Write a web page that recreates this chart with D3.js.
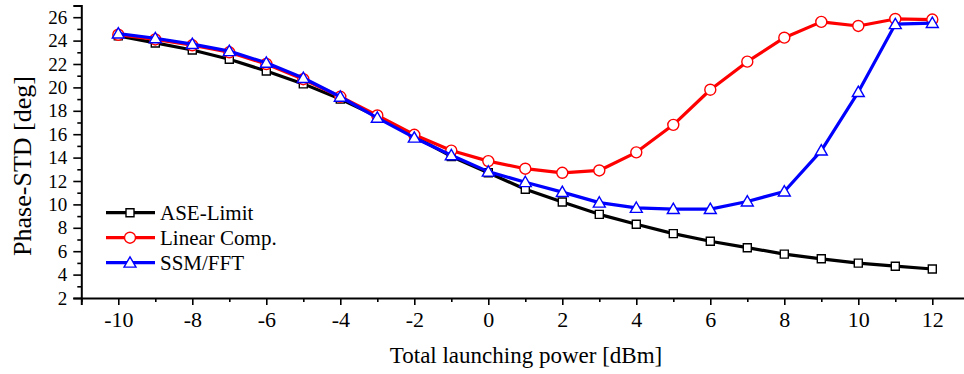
<!DOCTYPE html>
<html>
<head>
<meta charset="utf-8">
<script src="https://cdn.jsdelivr.net/npm/d3@7"></script>
<style>
  body { margin: 0; background: #fff; }
  svg text { font-family: "Liberation Serif", "Times New Roman", serif; fill: #000; }
</style>
</head>
<body>
<svg id="chart" width="964" height="374"></svg>
<script>
// launch power values [dBm]
const power = [-10, -9, -8, -7, -6, -5, -4, -3, -2, -1, 0, 1, 2, 3, 4, 5, 6, 7, 8, 9, 10, 11, 12];

// phase STD [deg]
const aseLimit = [24.4, 23.8, 23.2, 22.4, 21.4, 20.3, 19.0, 17.5, 15.8, 14.1, 12.7, 11.3, 10.2, 9.15, 8.3, 7.5, 6.85, 6.3, 5.75, 5.35, 4.98, 4.72, 4.48];
const linearComp = [24.5, 24.1, 23.6, 23.0, 22.0, 20.7, 19.2, 17.6, 15.95, 14.6, 13.7, 13.05, 12.7, 12.9, 14.45, 16.8, 19.8, 22.2, 24.25, 25.6, 25.25, 25.85, 25.8];
const ssmFft = [24.6, 24.2, 23.7, 23.1, 22.1, 20.8, 19.2, 17.4, 15.7, 14.2, 12.8, 11.9, 11.05, 10.15, 9.7, 9.6, 9.6, 10.25, 11.1, 14.6, 19.6, 25.4, 25.5];

const xMajor = [-10, -8, -6, -4, -2, 0, 2, 4, 6, 8, 10, 12];
const xMinor = [-11, -9, -7, -5, -3, -1, 1, 3, 5, 7, 9, 11, 13];
const yMajor = [2, 4, 6, 8, 10, 12, 14, 16, 18, 20, 22, 24, 26];
const yMinor = [3, 5, 7, 9, 11, 13, 15, 17, 19, 21, 23, 25, 27];

const seriesNames = ['ASE-Limit', 'Linear Comp.', 'SSM/FFT'];

const svg = d3.select('#chart');

const xScale = d3.scaleLinear().domain([-11, 13]).range([81.3, 969.3]);
const yScale = d3.scaleLinear().domain([2, 27]).range([298, 5.5]);

// Axes
const xAxisG = svg.append('g').attr('transform', 'translate(0,298)');
xAxisG.call(d3.axisBottom(xScale).tickValues(xMajor).tickSize(7).tickPadding(5)
    .tickFormat(d => d));
xAxisG.append('g').call(d3.axisBottom(xScale).tickValues(xMinor).tickSize(4).tickFormat(''))
    .select('.domain').remove();
xAxisG.selectAll('text').style('font-size', '22px').attr('dy', '0.75em')
    .style('font-family', '"Liberation Serif", serif').attr('fill', '#000');

const yAxisG = svg.append('g').attr('transform', 'translate(81.3,0)');
yAxisG.call(d3.axisLeft(yScale).tickValues(yMajor).tickSize(8).tickPadding(6));
yAxisG.append('g').call(d3.axisLeft(yScale).tickValues(yMinor).tickSize(4).tickFormat(''))
    .select('.domain').remove();
yAxisG.selectAll('text').style('font-size', '19px')
    .style('font-family', '"Liberation Serif", serif').attr('fill', '#000');

svg.selectAll('.domain').attr('stroke', '#000').attr('stroke-width', 2);
svg.selectAll('.tick line').attr('stroke', '#000').attr('stroke-width', 1.6);

// Axis titles
svg.append('text')
    .attr('x', 526).attr('y', 363)
    .attr('text-anchor', 'middle')
    .style('font-size', '23px')
    .text('Total launching power [dBm]');

svg.append('text')
    .attr('transform', 'translate(31,166) rotate(-90)')
    .attr('text-anchor', 'middle')
    .style('font-size', '26px')
    .text('Phase-STD [deg]');

// Lines and markers
const line = d3.line()
    .x(d => xScale(d[0]))
    .y(d => yScale(d[1]));

const series = [
    { name: seriesNames[0], values: aseLimit, color: '#000', marker: 'square' },
    { name: seriesNames[1], values: linearComp, color: '#ff0000', marker: 'circle' },
    { name: seriesNames[2], values: ssmFft, color: '#0000ff', marker: 'triangle' }
];

const symbolFor = {
    square: d3.symbol().type(d3.symbolSquare).size(64),
    circle: d3.symbol().type(d3.symbolCircle).size(95),
    triangle: d3.symbol().type(d3.symbolTriangle).size(62)
};

series.forEach(s => {
    const pts = power.map((p, i) => [p, s.values[i]]);
    svg.append('path')
        .datum(pts)
        .attr('fill', 'none')
        .attr('stroke', s.color)
        .attr('stroke-width', 3.2)
        .attr('stroke-linejoin', 'round')
        .attr('d', line);

    svg.append('g').selectAll('path')
        .data(pts)
        .join('path')
        .attr('transform', d => `translate(${xScale(d[0])},${yScale(d[1]) + (s.marker === 'triangle' ? 1 : 0)})`)
        .attr('d', symbolFor[s.marker])
        .attr('fill', '#fff')
        .attr('stroke', s.color)
        .attr('stroke-width', 1.4);
});

// Legend
const legend = svg.append('g').attr('transform', 'translate(106,212.7)');
series.forEach((s, i) => {
    const g = legend.append('g').attr('transform', `translate(0,${i * 25})`);
    g.append('line')
        .attr('x1', 0).attr('x2', 49)
        .attr('y1', 0).attr('y2', 0)
        .attr('stroke', s.color).attr('stroke-width', 3.2);
    g.append('path')
        .attr('transform', `translate(24,${s.marker === 'triangle' ? 1 : 0})`)
        .attr('d', symbolFor[s.marker])
        .attr('fill', '#fff')
        .attr('stroke', s.color)
        .attr('stroke-width', 1.4);
    g.append('text')
        .attr('x', 54).attr('y', 7)
        .style('font-size', '21px')
        .text(s.name);
});
</script>
</body>
</html>
